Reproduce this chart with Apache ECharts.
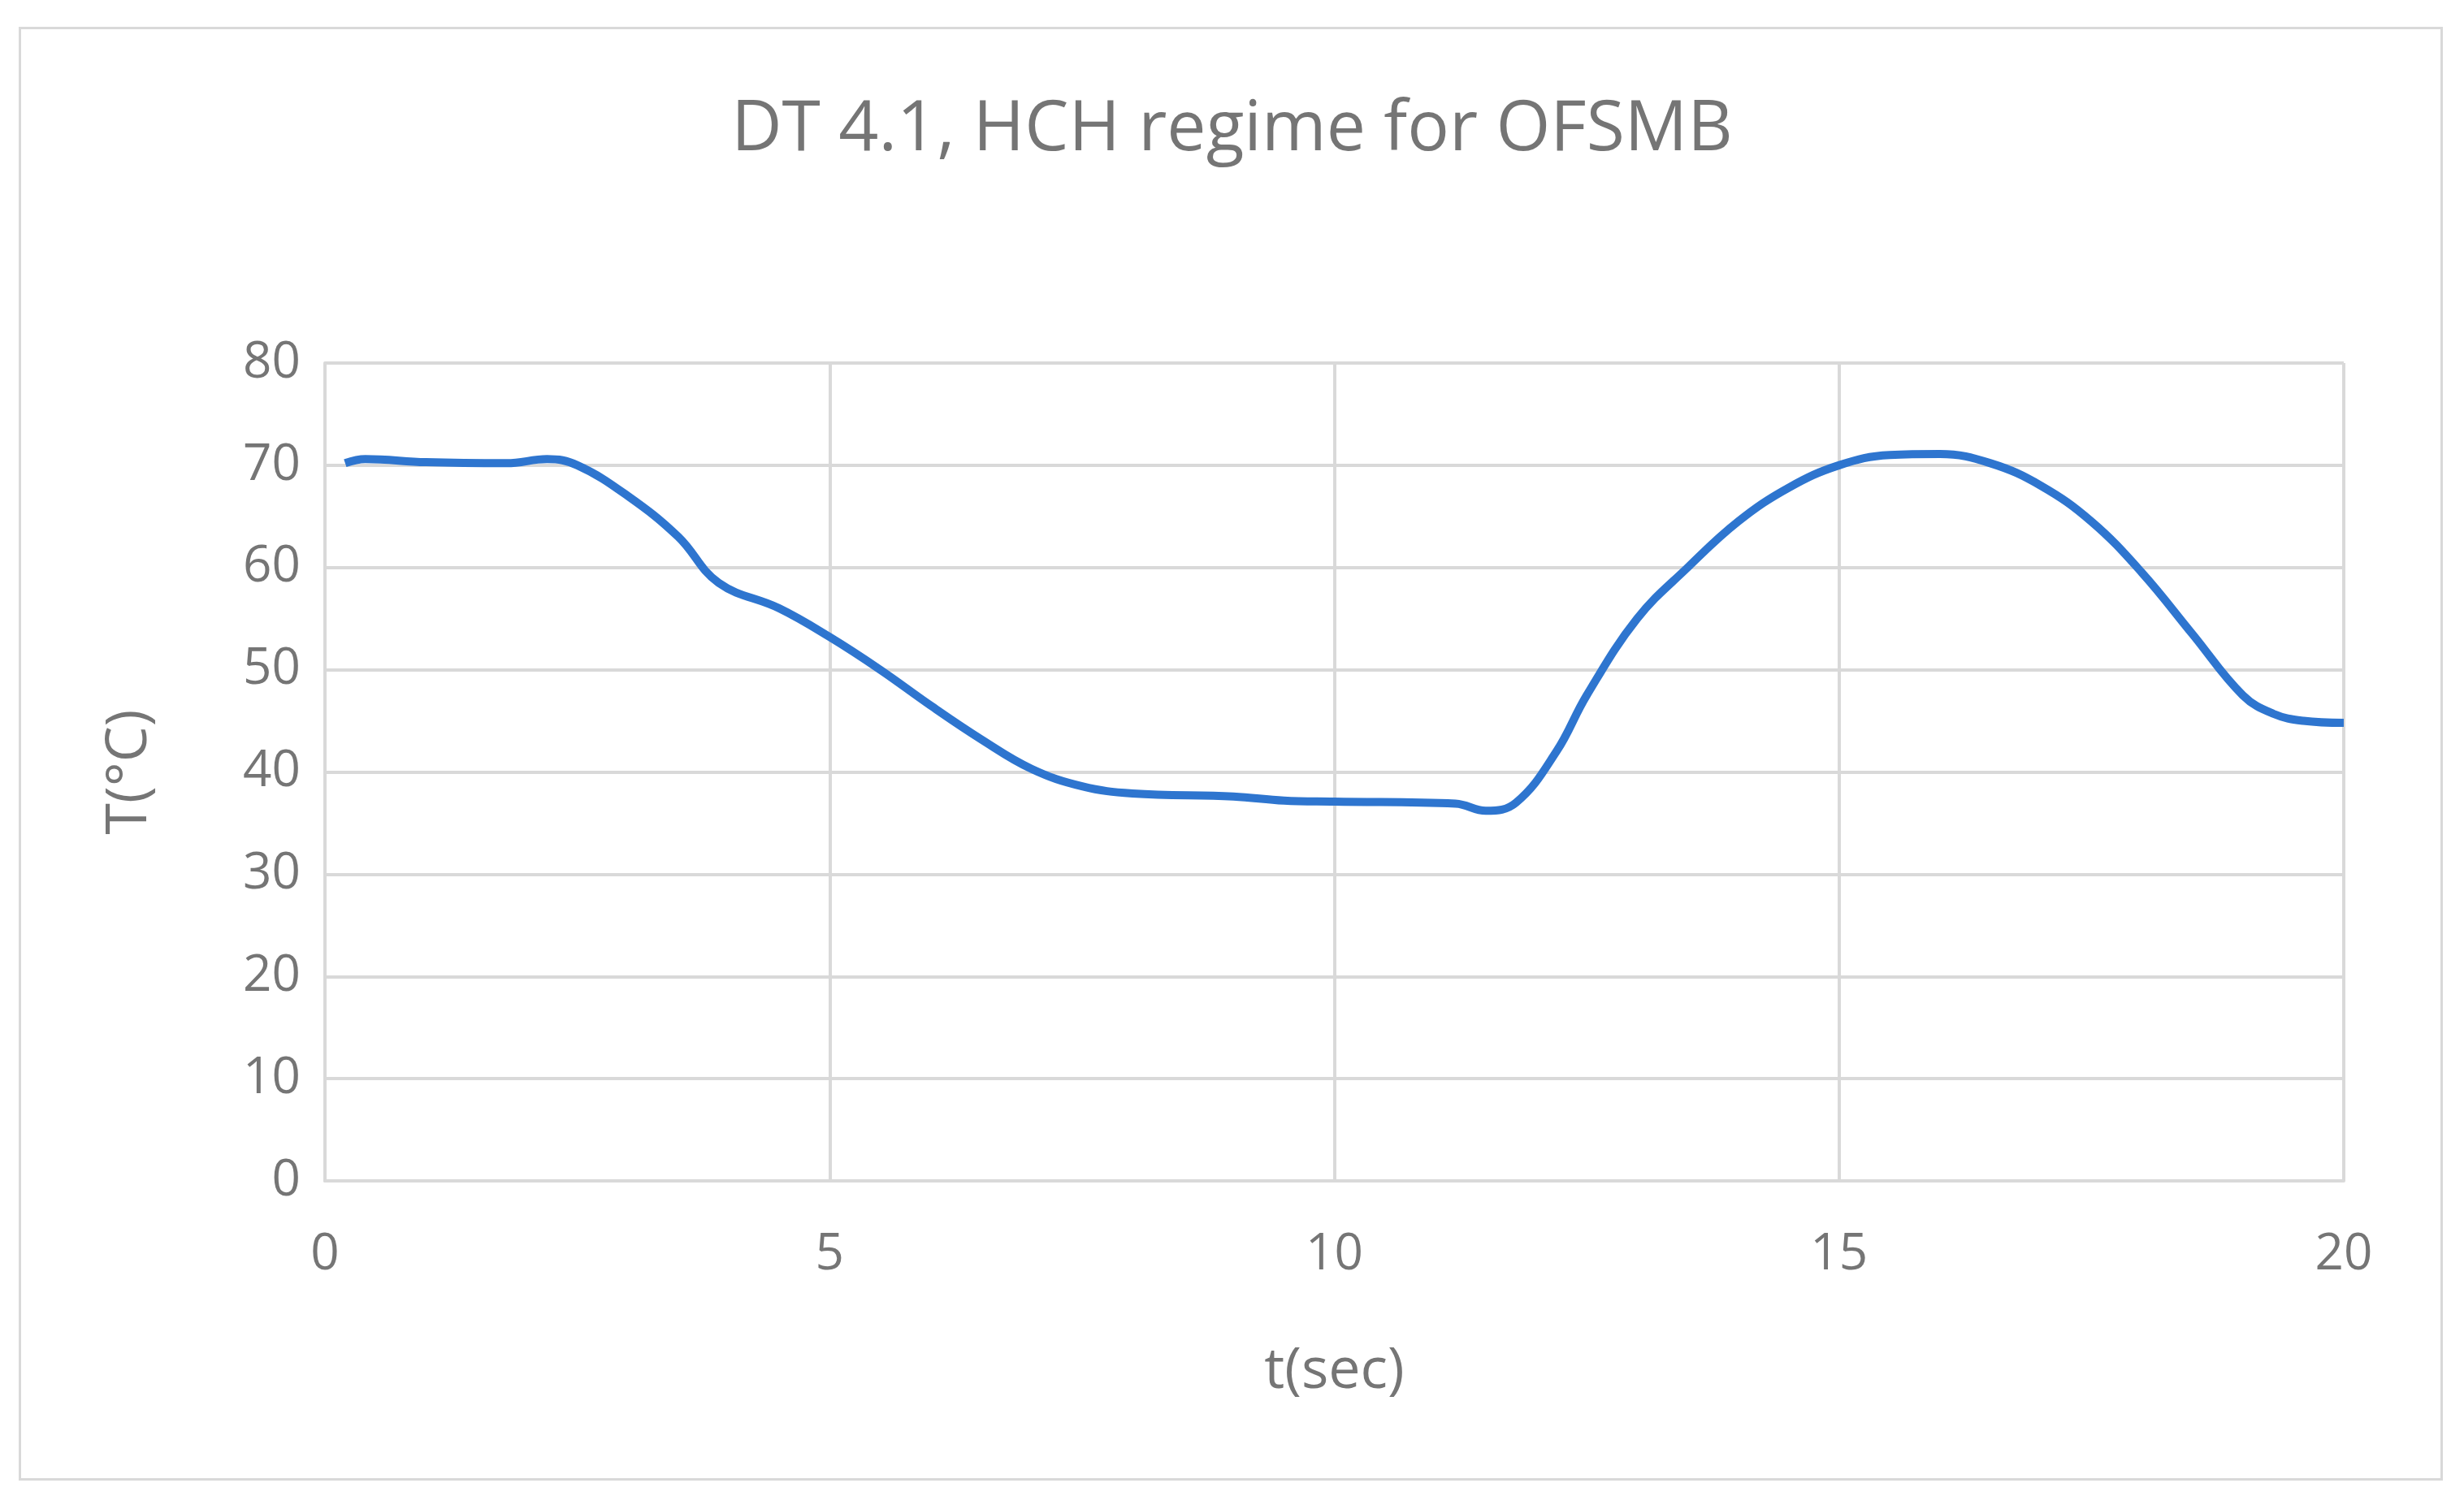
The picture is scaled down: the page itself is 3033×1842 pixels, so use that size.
<!DOCTYPE html>
<html>
<head>
<meta charset="utf-8" />
<title>DT 4.1</title>
<script src="https://cdn.jsdelivr.net/npm/echarts@6/dist/echarts.min.js"></script>
<style>
html,body{margin:0;padding:0;background:#fff;}
#chart{width:3033px;height:1842px;}
#frame{position:absolute;left:23px;top:33px;width:2984px;height:1790px;border:3px solid #d9d9d9;box-sizing:border-box;pointer-events:none;}
</style>
</head>
<body>
<div id="chart"></div>
<div id="frame"></div>
<script>
var times = [0.2,0.4,1,1.8,2.2,2.5,3,3.5,3.9,4.5,5,5.5,6,6.5,7,7.5,8,9,9.5,10,11.2,11.5,11.8,12.2,12.5,13,13.5,14,14.5,15,15.5,16,16.5,17,17.5,18,18.5,19,19.3,19.6,20];
var temps = [70.2,70.6,70.3,70.2,70.6,70,67,63,58.5,56,53.2,50,46.5,43.2,40.3,38.6,37.9,37.6,37.2,37.1,36.9,36.2,37,42,47.5,55,60,64.5,67.8,70,71,71.1,70.2,68,64.5,59.5,53.5,47.5,45.7,45,44.8];

var points = [];
for (var i = 0; i < times.length; i++) {
  points.push([times[i], temps[i]]);
}

var gridColor = '#d9d9d9';
var textColor = '#757575';
var font = '"Open Sans", "Liberation Sans", sans-serif';

var option = {
  animation: false,
  backgroundColor: '#fff',
  title: {
    text: 'DT 4.1, HCH regime for OFSMB',
    left: 'center',
    top: 112,
    textStyle: {color: textColor, fontSize: 86, fontWeight: 'normal', fontFamily: font}
  },
  grid: {left: 400, right: 148, top: 447, bottom: 388},
  xAxis: {
    type: 'value', min: 0, max: 20, interval: 5,
    name: 't(sec)', nameLocation: 'middle', nameGap: 200,
    nameTextStyle: {color: textColor, fontSize: 70, fontFamily: font},
    axisLine: {show: true, lineStyle: {color: gridColor, width: 4}},
    axisTick: {show: false},
    axisLabel: {color: textColor, fontSize: 62, fontFamily: font, margin: 60},
    splitLine: {show: true, lineStyle: {color: gridColor, width: 4}}
  },
  yAxis: {
    type: 'value', min: 0, max: 80, interval: 10,
    name: 'T(\u00B0C)', nameLocation: 'middle', nameGap: 205,
    nameTextStyle: {color: textColor, fontSize: 70, fontFamily: font},
    axisLine: {show: true, lineStyle: {color: gridColor, width: 4}},
    axisTick: {show: false},
    axisLabel: {color: textColor, fontSize: 62, fontFamily: font, margin: 30},
    splitLine: {show: true, lineStyle: {color: gridColor, width: 4}}
  },
  series: [{
    type: 'line',
    data: points,
    smooth: 0.4,
    showSymbol: false,
    lineStyle: {color: '#2e75cf', width: 10}
  }]
};

var myChart = echarts.init(document.getElementById('chart'));
myChart.setOption(option);
</script>
</body>
</html>
